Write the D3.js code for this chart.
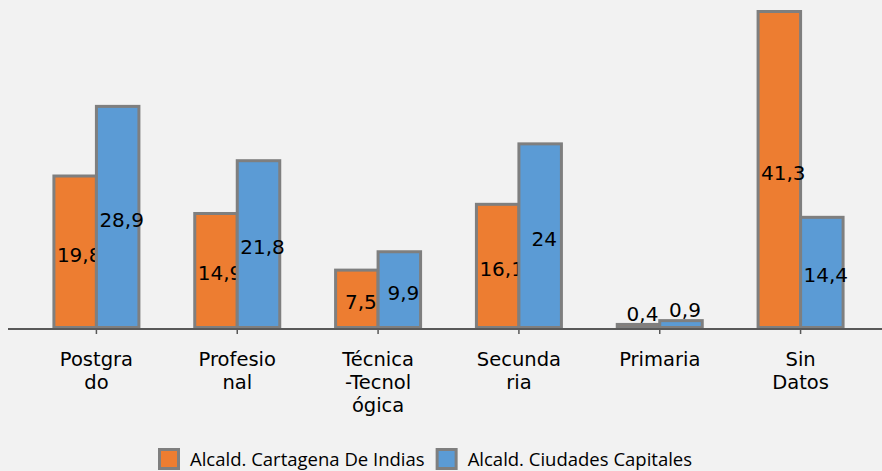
<!DOCTYPE html>
<html>
<head>
<meta charset="utf-8">
<script src="https://cdn.jsdelivr.net/npm/d3@7"></script>
<style>
  html, body { margin: 0; padding: 0; background: #F2F2F2; }
  svg { display: block; }
</style>
</head>
<body>
<svg id="chart" width="882" height="471"></svg>
<script>
const categories = ["Postgrado", "Profesional", "Técnica-Tecnológica", "Secundaria", "Primaria", "Sin Datos"];
const tickLines = [["Postgra", "do"], ["Profesio", "nal"], ["Técnica", "-Tecnol", "ógica"], ["Secunda", "ria"], ["Primaria"], ["Sin", "Datos"]];
const seriesNames = ["Alcald. Cartagena De Indias", "Alcald. Ciudades Capitales"];
const cartagena = [19.8, 14.9, 7.5, 16.1, 0.4, 41.3];
const capitales = [28.9, 21.8, 9.9, 24, 0.9, 14.4];
const colors = ["#ED7D31", "#5B9BD5"];

const width = 882, height = 471;
const svg = d3.select("#chart");

const x = d3.scaleBand().domain(categories).range([26, 871]);
const y = d3.scaleLinear().domain([0, d3.max(cartagena.concat(capitales))]).range([327.5, 11.5]);
const barW = 42.5;
const fmt = v => String(v).replace(".", ",");
const center = c => x(c) + x.bandwidth() / 2;

[cartagena, capitales].forEach((vals, s) => {
	const g = svg.append("g");
	const rows = categories.map((c, i) => ({ c, v: vals[i] }));
	const bx = d => center(d.c) + (s === 0 ? -barW : 0);

	g.selectAll("rect")
		.data(rows)
		.join("rect")
		.attr("x", bx)
		.attr("y", d => y(d.v))
		.attr("width", barW)
		.attr("height", d => y(0) - y(d.v))
		.attr("fill", colors[s])
		.attr("stroke", "#7F7F7F")
		.attr("stroke-width", 3);

	g.selectAll("text")
		.data(rows)
		.join("text")
		.attr("x", d => bx(d) + barW / 2 + 4)
		.attr("y", d => {
			const h = y(0) - y(d.v);
			return h < 25 ? y(d.v) - 3.5 : (y(d.v) + y(0)) / 2 + 10;
		})
		.attr("text-anchor", "middle")
		.attr("font-family", "DejaVu Sans")
		.attr("font-size", 20)
		.attr("fill", "#000")
		.text(d => fmt(d.v));
});

// axis
svg.append("line")
	.attr("x1", 8).attr("x2", width)
	.attr("y1", 329).attr("y2", 329)
	.attr("stroke", "#595959").attr("stroke-width", 2);

const ticks = svg.append("g");
ticks.selectAll("line")
	.data(categories)
	.join("line")
	.attr("x1", center).attr("x2", center)
	.attr("y1", 330).attr("y2", 334)
	.attr("stroke", "#595959").attr("stroke-width", 1.5);

ticks.selectAll("text")
	.data(categories)
	.join("text")
	.attr("text-anchor", "middle")
	.attr("font-family", "DejaVu Sans")
	.attr("font-size", 19.5)
	.attr("fill", "#000")
	.each(function(c, i) {
		d3.select(this).selectAll("tspan")
			.data(tickLines[i])
			.join("tspan")
			.attr("x", center(c))
			.attr("y", (d, j) => 366 + j * 23)
			.text(d => d);
	});

// legend
const legend = svg.append("g");
let lx = 158;
seriesNames.forEach((name, s) => {
	legend.append("rect")
		.attr("x", lx + 1.5).attr("y", 449.5)
		.attr("width", 19).attr("height", 19)
		.attr("fill", colors[s])
		.attr("stroke", "#7F7F7F").attr("stroke-width", 3);
	const t = legend.append("text")
		.attr("x", lx + 32).attr("y", 466)
		.attr("font-family", "Open Sans")
		.attr("font-size", 18.5)
		.attr("fill", "#000")
		.text(name);
	lx += 32 + t.node().getComputedTextLength() + 11;
});
</script>
</body>
</html>
